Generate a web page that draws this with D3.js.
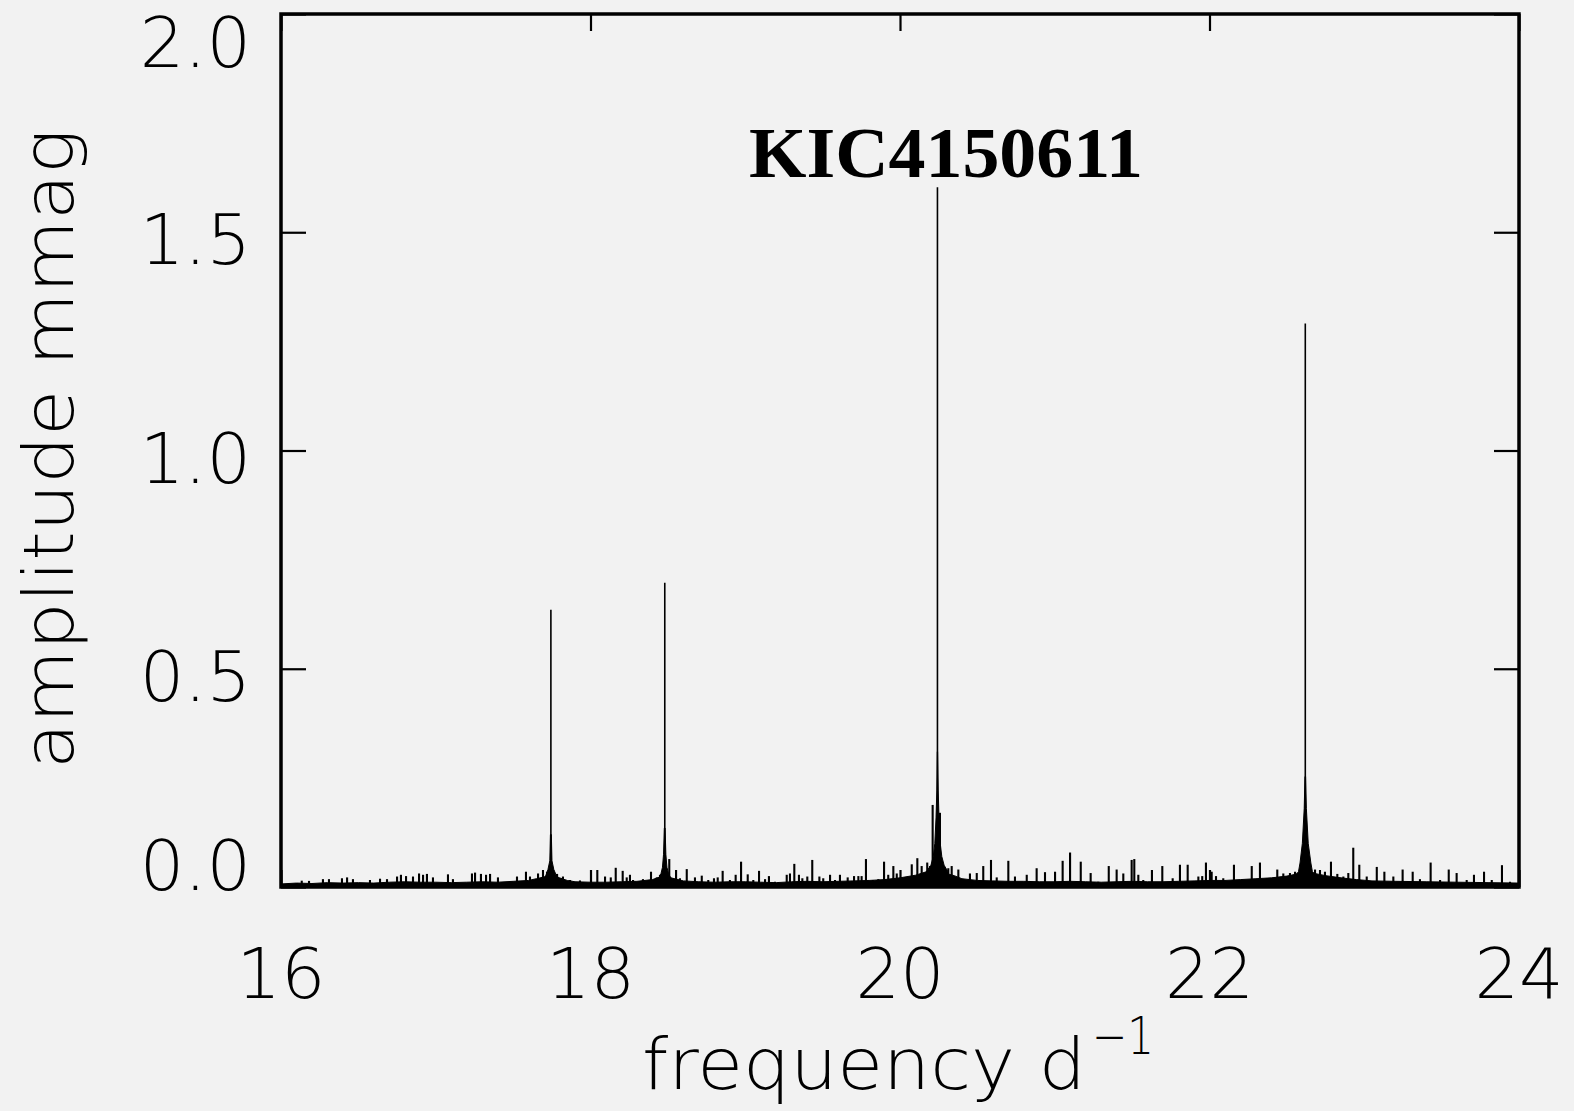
<!DOCTYPE html>
<html>
<head>
<meta charset="utf-8">
<script src="https://cdn.jsdelivr.net/npm/d3@7"></script>
<style>
  html, body { margin: 0; padding: 0; background: #f2f2f2; }
  svg { display: block; }
  .lbl { font-family: "DejaVu Sans", "DejaVu Sans ExtraLight", sans-serif; font-weight: 200; fill: #000; }
  .title { font-family: "Liberation Serif", "Times New Roman", serif; font-weight: bold; fill: #000; }
</style>
</head>
<body>
<svg id="chart" width="1574" height="1111"></svg>
<script>
// Amplitude spectrum of KIC4150611, 16–24 d^-1

// Axis ticks
const xTickValues = [16, 18, 20, 22, 24];
const yTickValues = [0, 0.5, 1.0, 1.5, 2.0];
const xTickLabels = ["16", "18", "20", "22", "24"];
const yTickLabels = ["0.0", "0.5", "1.0", "1.5", "2.0"];

// Dominant pulsation peaks (d^-1, mmag)
const peakFreqs = [17.744, 18.480, 20.242, 22.619];
const peakAmps  = [0.635, 0.697, 1.603, 1.291];

// Spectral-window wings around each dominant peak
const wing1Freqs = [17.700, 17.715, 17.725, 17.737, 17.741, 17.747, 17.751, 17.763, 17.775, 17.790];
const wing1Amps  = [0.014, 0.030, 0.040, 0.060, 0.120, 0.120, 0.060, 0.040, 0.030, 0.014];
const wing2Freqs = [18.430, 18.455, 18.465, 18.472, 18.477, 18.482, 18.487, 18.494, 18.505, 18.530];
const wing2Amps  = [0.014, 0.030, 0.045, 0.075, 0.135, 0.135, 0.075, 0.045, 0.030, 0.014];
const wing3Freqs = [20.170, 20.200, 20.215, 20.225, 20.233, 20.238, 20.241, 20.243, 20.247, 20.252, 20.260, 20.270, 20.285, 20.310];
const wing3Amps  = [0.035, 0.050, 0.070, 0.100, 0.160, 0.220, 0.310, 0.310, 0.220, 0.160, 0.100, 0.070, 0.050, 0.035];
const wing4Freqs = [22.550, 22.575, 22.585, 22.600, 22.612, 22.617, 22.621, 22.626, 22.638, 22.655, 22.665, 22.690];
const wing4Amps  = [0.025, 0.035, 0.055, 0.100, 0.180, 0.253, 0.253, 0.180, 0.100, 0.055, 0.035, 0.025];

// Noise spikes above the floor
const noiseFreqs = [
  16.134, 16.181, 16.271, 16.310, 16.394, 16.427, 16.465, 16.575, 16.640, 16.685,
  16.750, 16.775, 16.808, 16.853, 16.892, 16.918, 16.943, 16.982, 17.079, 17.111,
  17.234, 17.254, 17.292, 17.325, 17.351, 17.402, 17.525, 17.583, 17.609, 17.661,
  17.693, 17.719, 17.784, 17.822, 17.868, 17.932, 18.044, 18.094, 18.131, 18.163,
  18.208, 18.234, 18.255, 18.275, 18.339, 18.391, 18.428, 18.449, 18.509, 18.553,
  18.578, 18.622, 18.675, 18.719, 18.761, 18.798, 18.822, 18.854, 18.901, 18.938,
  18.973, 19.016, 19.052, 19.089, 19.128, 19.153, 19.192, 19.268, 19.289, 19.317,
  19.347, 19.369, 19.401, 19.433, 19.479, 19.504, 19.548, 19.580, 19.612, 19.662,
  19.703, 19.731, 19.752, 19.780, 19.824, 19.860, 19.897, 19.924, 19.957, 19.979,
  20.076, 20.112, 20.140, 20.176, 20.194, 20.211, 20.258, 20.280, 20.312, 20.334,
  20.377, 20.452, 20.496, 20.538, 20.588, 20.625, 20.700, 20.743, 20.819, 20.883,
  20.937, 21.002, 21.051, 21.099, 21.168, 21.232, 21.281, 21.349, 21.400, 21.443,
  21.497, 21.514, 21.540, 21.572, 21.628, 21.695, 21.762, 21.809, 21.859, 21.928,
  21.953, 21.977, 22.014, 22.042, 22.089, 22.158, 22.197, 22.273, 22.326, 22.370,
  22.438, 22.477, 22.520, 22.553, 22.682, 22.714, 22.746, 22.785, 22.826, 22.865,
  22.897, 22.929, 22.968, 23.016, 23.081, 23.130, 23.188, 23.248, 23.313, 23.360,
  23.429, 23.490, 23.546, 23.597, 23.662, 23.709, 23.774, 23.824, 23.890, 23.942
];
const noiseAmps = [
  0.0145, 0.014, 0.018, 0.018, 0.020, 0.022, 0.018, 0.016, 0.019, 0.018,
  0.024, 0.028, 0.025, 0.024, 0.031, 0.028, 0.030, 0.022, 0.029, 0.018,
  0.031, 0.033, 0.030, 0.028, 0.030, 0.022, 0.024, 0.035, 0.024, 0.031,
  0.039, 0.035, 0.030, 0.024, 0.016, 0.015, 0.039, 0.024, 0.022, 0.044,
  0.037, 0.022, 0.028, 0.016, 0.018, 0.035, 0.022, 0.028, 0.064, 0.039,
  0.020, 0.041, 0.022, 0.026, 0.016, 0.020, 0.022, 0.037, 0.016, 0.028,
  0.058, 0.029, 0.016, 0.037, 0.018, 0.025, 0.012, 0.028, 0.031, 0.053,
  0.028, 0.020, 0.024, 0.062, 0.024, 0.020, 0.028, 0.016, 0.028, 0.022,
  0.025, 0.025, 0.025, 0.064, 0.016, 0.018, 0.058, 0.028, 0.048, 0.031,
  0.052, 0.066, 0.048, 0.056, 0.048, 0.188, 0.170, 0.048, 0.043, 0.048,
  0.040, 0.031, 0.032, 0.048, 0.062, 0.022, 0.060, 0.024, 0.028, 0.043,
  0.034, 0.035, 0.060, 0.079, 0.058, 0.032, 0.012, 0.048, 0.040, 0.031,
  0.062, 0.064, 0.028, 0.016, 0.039, 0.048, 0.020, 0.051, 0.051, 0.024,
  0.025, 0.056, 0.035, 0.025, 0.020, 0.051, 0.016, 0.048, 0.056, 0.020,
  0.040, 0.031, 0.032, 0.035, 0.040, 0.039, 0.035, 0.058, 0.030, 0.024,
  0.032, 0.090, 0.051, 0.024, 0.046, 0.035, 0.024, 0.040, 0.035, 0.018,
  0.056, 0.016, 0.040, 0.032, 0.016, 0.028, 0.035, 0.016, 0.050, 0.012
];

// Noise floor level across the range
const floorFreqs = [
  16.00, 16.10, 16.20, 16.30, 16.40, 16.50, 16.60, 16.70, 16.80, 16.90,
  17.00, 17.10, 17.20, 17.30, 17.40, 17.50, 17.60, 17.65, 17.70, 17.74,
  17.80, 17.85, 17.90, 18.00, 18.10, 18.20, 18.30, 18.40, 18.45, 18.48,
  18.52, 18.60, 18.70, 18.80, 18.90, 19.00, 19.10, 19.20, 19.30, 19.40,
  19.50, 19.60, 19.70, 19.80, 19.90, 20.00, 20.10, 20.18, 20.24, 20.30,
  20.35, 20.40, 20.50, 20.60, 20.70, 20.80, 20.90, 21.00, 21.10, 21.20,
  21.30, 21.40, 21.50, 21.60, 21.70, 21.80, 21.90, 22.00, 22.10, 22.20,
  22.30, 22.40, 22.50, 22.58, 22.62, 22.68, 22.75, 22.85, 22.95, 23.05,
  23.20, 23.40, 23.60, 23.80, 24.00
];
const floorAmps = [
  0.007, 0.009, 0.008, 0.010, 0.009, 0.010, 0.009, 0.011, 0.012, 0.011,
  0.011, 0.010, 0.011, 0.012, 0.011, 0.013, 0.015, 0.019, 0.023, 0.030,
  0.021, 0.015, 0.012, 0.011, 0.011, 0.012, 0.013, 0.017, 0.023, 0.030,
  0.021, 0.014, 0.012, 0.011, 0.012, 0.012, 0.011, 0.010, 0.012, 0.013,
  0.012, 0.013, 0.014, 0.015, 0.017, 0.021, 0.027, 0.036, 0.050, 0.031,
  0.026, 0.019, 0.015, 0.014, 0.013, 0.013, 0.012, 0.012, 0.013, 0.012,
  0.011, 0.012, 0.013, 0.012, 0.012, 0.013, 0.014, 0.015, 0.015, 0.017,
  0.019, 0.021, 0.025, 0.031, 0.040, 0.031, 0.026, 0.021, 0.017, 0.014,
  0.013, 0.012, 0.011, 0.010, 0.009
];

const svg = d3.select("#chart");
const W = 1574, H = 1111;
const plot = { left: 281, right: 1519, top: 14, bottom: 887 };

svg.append("rect").attr("width", W).attr("height", H).attr("fill", "#f2f2f2");

const x = d3.scaleLinear().domain([16, 24]).range([plot.left, plot.right]);
const y = d3.scaleLinear().domain([0, 2]).range([plot.bottom, plot.top]);

svg.append("clipPath").attr("id", "plotClip")
  .append("rect")
  .attr("x", plot.left).attr("y", plot.top)
  .attr("width", plot.right - plot.left).attr("height", plot.bottom - plot.top);

const data = svg.append("g").attr("clip-path", "url(#plotClip)");

const area = d3.area()
  .x(d => x(d[0]))
  .y0(y(0))
  .y1(d => y(d[1]));

// noise floor band
data.append("path")
  .datum(d3.zip(floorFreqs, floorAmps))
  .attr("d", area)
  .attr("fill", "#000")
  .attr("stroke", "#000")
  .attr("stroke-width", 1);

// window wings of the main peaks
[[wing1Freqs, wing1Amps], [wing2Freqs, wing2Amps], [wing3Freqs, wing3Amps], [wing4Freqs, wing4Amps]]
  .forEach(([f, a]) => {
    data.append("path")
      .datum(d3.zip(f, a))
      .attr("d", area)
      .attr("fill", "#000")
      .attr("stroke", "#000")
      .attr("stroke-width", 1);
  });

// noise spikes
data.append("g").selectAll("line")
  .data(d3.zip(noiseFreqs, noiseAmps))
  .join("line")
  .attr("x1", d => x(d[0])).attr("x2", d => x(d[0]))
  .attr("y1", y(0)).attr("y2", d => y(d[1]))
  .attr("stroke", "#000")
  .attr("stroke-width", 2.1);

// main peaks
data.append("g").selectAll("line")
  .data(d3.zip(peakFreqs, peakAmps))
  .join("line")
  .attr("x1", d => x(d[0])).attr("x2", d => x(d[0]))
  .attr("y1", y(0)).attr("y2", d => y(d[1]))
  .attr("stroke", "#000")
  .attr("stroke-width", 1.6);

// frame
svg.append("rect")
  .attr("x", plot.left).attr("y", plot.top)
  .attr("width", plot.right - plot.left).attr("height", plot.bottom - plot.top)
  .attr("fill", "none")
  .attr("stroke", "#000")
  .attr("stroke-width", 3.5);

// inward tick marks on all four sides
const xTickLen = 17, yTickLen = 25;
const tickStyle = g => {
  g.select(".domain").remove();
  g.selectAll(".tick line").attr("stroke", "#000").attr("stroke-width", 2.2);
};
svg.append("g").attr("transform", `translate(0,${plot.bottom})`)
  .call(d3.axisBottom(x).tickValues(xTickValues).tickSize(-xTickLen).tickFormat(""))
  .call(tickStyle);
svg.append("g").attr("transform", `translate(0,${plot.top})`)
  .call(d3.axisTop(x).tickValues(xTickValues).tickSize(-xTickLen).tickFormat(""))
  .call(tickStyle);
svg.append("g").attr("transform", `translate(${plot.left},0)`)
  .call(d3.axisLeft(y).tickValues(yTickValues).tickSize(-yTickLen).tickFormat(""))
  .call(tickStyle);
svg.append("g").attr("transform", `translate(${plot.right},0)`)
  .call(d3.axisRight(y).tickValues(yTickValues).tickSize(-yTickLen).tickFormat(""))
  .call(tickStyle);

// tick labels
svg.append("g").selectAll("text")
  .data(xTickValues)
  .join("text")
  .attr("class", "lbl")
  .attr("x", d => x(d))
  .attr("y", 998)
  .attr("text-anchor", "middle")
  .attr("font-size", 70)
  .text((d, i) => xTickLabels[i]);

svg.append("g").selectAll("text")
  .data(yTickValues)
  .join("text")
  .attr("class", "lbl")
  .attr("x", 251)
  .attr("y", d => Math.min(Math.max(y(d) + 32, plot.top + 53), plot.bottom + 3))
  .attr("text-anchor", "end")
  .attr("font-size", 70)
  .text((d, i) => yTickLabels[i]);

// axis titles
svg.append("text")
  .attr("class", "lbl")
  .attr("x", 642).attr("y", 1089)
  .attr("font-size", 72)
  .attr("textLength", 444).attr("lengthAdjust", "spacingAndGlyphs")
  .text("frequency d");
svg.append("text")
  .attr("class", "lbl")
  .attr("x", 1092).attr("y", 1054)
  .attr("font-size", 52)
  .attr("textLength", 62).attr("lengthAdjust", "spacingAndGlyphs")
  .text("\u22121");

svg.append("text")
  .attr("class", "lbl")
  .attr("transform", "translate(73,449) rotate(-90)")
  .attr("text-anchor", "middle")
  .attr("font-size", 70)
  .attr("textLength", 640).attr("lengthAdjust", "spacingAndGlyphs")
  .text("amplitude mmag");

// star identifier
svg.append("text")
  .attr("class", "title")
  .attr("x", 749).attr("y", 177)
  .attr("font-size", 72)
  .attr("textLength", 394).attr("lengthAdjust", "spacingAndGlyphs")
  .text("KIC4150611");
</script>
</body>
</html>
